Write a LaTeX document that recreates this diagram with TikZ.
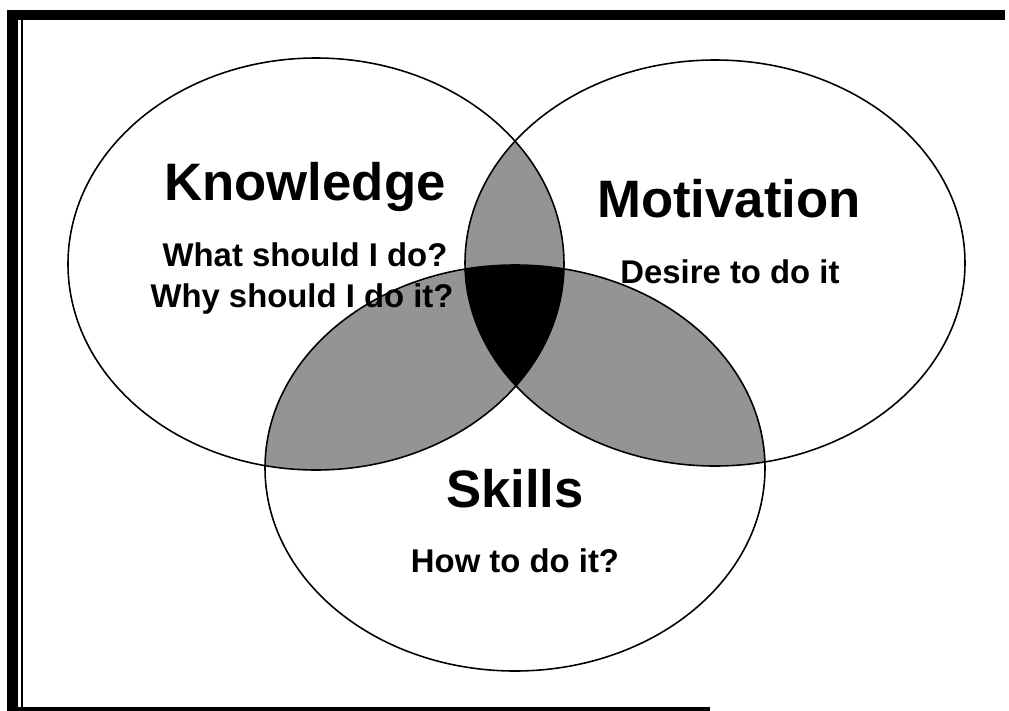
\documentclass[tikz,border=0pt]{standalone}
\usepackage{fontspec}
\setmainfont{Liberation Sans}

\newcommand{\knowset}{(316,264) ellipse [x radius=248, y radius=206]}
\newcommand{\motset}{(715,263) ellipse [x radius=250, y radius=203]}
\newcommand{\skillset}{(515,468) ellipse [x radius=250, y radius=203]}

\begin{document}
\begin{tikzpicture}[x=0.02cm,y=-0.02cm,
  title/.style={font=\bfseries\fontsize{30}{36}\selectfont,anchor=base,inner sep=0pt},
  sub/.style={font=\bfseries\fontsize{18.7}{22}\selectfont,anchor=base,inner sep=0pt},
  overlap/.style={fill=black!42}]
\useasboundingbox (0,0) rectangle (1009,711);

% frame
\fill (7,10) rectangle (18,711);
\fill (7,10) rectangle (1005,20);
\fill (7,707) rectangle (710,711);
\draw[line width=0.9pt] (22,20) -- (22,707);

% pairwise overlaps, then the common part
\begin{scope}\clip \knowset; \fill[overlap] \motset; \fill[overlap] \skillset; \end{scope}
\begin{scope}\clip \motset; \fill[overlap] \skillset; \end{scope}
\begin{scope}\clip \knowset; \clip \motset; \fill \skillset; \end{scope}

\draw[line width=0.9pt] \knowset \motset \skillset;

\node[title] (know) at (305,200) {Knowledge};
\node[sub] (what) at (305,266) {What should I do?};
\node[sub] (why) at (302,307) {Why should I do it?};

\node[title] (mot) at (729,217) {Motivation};
\node[sub] (desire) at (730,283) {Desire to do it};

\node[title] (skill) at (515,507) {Skills};
\node[sub] (how) at (515,572) {How to do it?};
\end{tikzpicture}
\end{document}
